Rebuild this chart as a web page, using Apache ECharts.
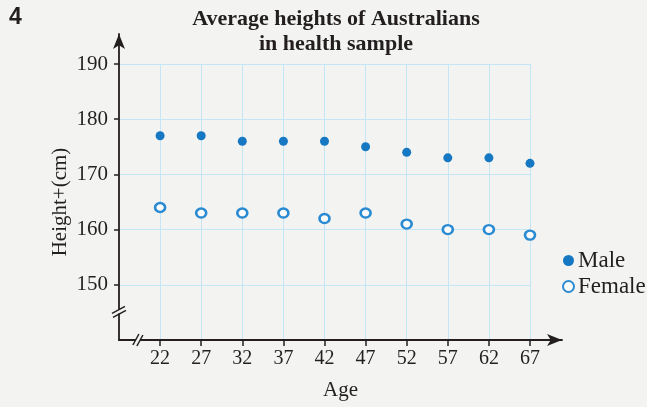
<!DOCTYPE html>
<html>
<head>
<meta charset="utf-8">
<script src="https://cdn.jsdelivr.net/npm/echarts@6/dist/echarts.min.js"></script>
<style>
  html, body { margin: 0; padding: 0; background: #f3f4f1; }
  #chart { width: 647px; height: 407px; }
</style>
</head>
<body>
<div id="chart"></div>
<script>
// Average heights by age group
const ages = [22, 27, 32, 37, 42, 47, 52, 57, 62, 67];
const maleHeights = [177, 177, 176, 176, 176, 175, 174, 173, 173, 172];
const femaleHeights = [164, 163, 163, 163, 162, 163, 161, 160, 160, 159];
const heightTicks = [150, 160, 170, 180, 190];
const titleText = 'Average heights of Australians\nin health sample';
const questionNumber = '4';

const SERIF = '"Liberation Serif", "DejaVu Serif", serif';
const INK = '#231f20';
const GRID_BLUE = '#c3e5f6';
const MALE_BLUE = '#1677c2';
const FEMALE_BLUE = '#2a8ad2';
const BG = '#f3f4f1';

const chart = echarts.init(document.getElementById('chart'), null, { renderer: 'canvas' });

const numberLabel = {
  type: 'text', left: 9, top: 6,
  style: { text: questionNumber, fontFamily: '"Liberation Sans", Arial, sans-serif', fontSize: 23, fontWeight: 'bold', fill: INK }
};

const option = {
  backgroundColor: BG,
  animation: false,
  title: {
    text: titleText,
    left: 336,
    textAlign: 'center',
    top: 7,
    padding: 0,
    textStyle: { fontFamily: SERIF, fontSize: 22, fontWeight: 'bold', color: INK, lineHeight: 25 }
  },
  legend: {
    orient: 'vertical',
    left: 562,
    top: 249,
    padding: 0,
    itemGap: 3,
    itemWidth: 11,
    itemHeight: 11,
    textStyle: { fontFamily: SERIF, fontSize: 23, color: INK, lineHeight: 22, padding: [0, 0, 0, -1] },
    data: [{ name: 'Male', icon: 'circle' }, { name: 'Female', icon: 'circle' }]
  },
  grid: [
    // plotting area: grid lines end at 190 cm and age 67
    { left: 119, right: 117, top: 64, bottom: 67 },
    // axis frame with arrows reaching beyond the plotting area
    { left: 119, right: 85, top: 34, bottom: 67 }
  ],
  xAxis: [
    {
      gridIndex: 0, type: 'value', min: 17, max: 67,
      axisLine: { show: false },
      axisTick: { show: true, length: 6, customValues: ages, lineStyle: { color: INK, width: 1.5 } },
      axisLabel: { customValues: ages, margin: 9, fontFamily: SERIF, fontSize: 20, color: INK },
      splitLine: { show: true, lineStyle: { color: GRID_BLUE, width: 1 } }
    },
    {
      gridIndex: 1, type: 'value', min: 0, max: 1,
      axisLine: { show: true, symbol: ['none', 'arrow'], symbolSize: [9, 15], lineStyle: { color: INK, width: 1.8 } },
      axisTick: { show: false }, axisLabel: { show: false }, splitLine: { show: false },
      name: 'Age', nameLocation: 'middle', nameGap: 40,
      nameTextStyle: { fontFamily: SERIF, fontSize: 21, color: INK }
    }
  ],
  yAxis: [
    {
      gridIndex: 0, type: 'value', min: 140, max: 190,
      axisLine: { show: false },
      axisTick: { show: true, length: 5, customValues: heightTicks, lineStyle: { color: INK, width: 1.5 } },
      axisLabel: { customValues: heightTicks, margin: 11, fontFamily: SERIF, fontSize: 21, color: INK },
      splitLine: { show: true, lineStyle: { color: GRID_BLUE, width: 1 } },
      name: 'Height+(cm)', nameLocation: 'middle', nameGap: 48, nameRotate: 90,
      nameMoveOverlap: false,
      nameTextStyle: { fontFamily: SERIF, fontSize: 21, color: INK }
    },
    {
      gridIndex: 1, type: 'value', min: 0, max: 1,
      axisLine: { show: true, symbol: ['none', 'arrow'], symbolSize: [9, 15], lineStyle: { color: INK, width: 1.8 } },
      axisTick: { show: false }, axisLabel: { show: false }, splitLine: { show: false }
    }
  ],
  series: [
    {
      name: 'Male', type: 'scatter', xAxisIndex: 0, yAxisIndex: 0,
      symbol: 'circle', symbolSize: 9,
      itemStyle: { color: MALE_BLUE, opacity: 1 },
      data: ages.map((a, i) => [a, maleHeights[i]]),
      z: 5
    },
    {
      name: 'Female', type: 'scatter', xAxisIndex: 0, yAxisIndex: 0,
      symbol: 'circle', symbolSize: [10, 9],
      itemStyle: { color: '#fbfbfb', borderColor: FEMALE_BLUE, borderWidth: 2.5, opacity: 1 },
      data: ages.map((a, i) => [a, femaleHeights[i]]),
      z: 5
    }
  ],
  graphic: [numberLabel]
};

chart.setOption(option);

// Axis break marks ("//") placed with the plotting grid's own scales
const yBreak = chart.convertToPixel({ gridIndex: 0 }, [17, 145.2]);
const xBreak = chart.convertToPixel({ gridIndex: 0 }, [19.3, 140]);
const breakStroke = { stroke: INK, lineWidth: 1.5 };
chart.setOption({
  graphic: [
    numberLabel,
    { type: 'rect', shape: { x: yBreak[0] - 2, y: yBreak[1] - 2, width: 4, height: 4 }, style: { fill: BG }, z: 100 },
    { type: 'line', shape: { x1: yBreak[0] - 7, y1: yBreak[1] + 2, x2: yBreak[0] + 6, y2: yBreak[1] - 5 }, style: breakStroke, z: 101 },
    { type: 'line', shape: { x1: yBreak[0] - 6, y1: yBreak[1] + 6, x2: yBreak[0] + 7, y2: yBreak[1] - 1 }, style: breakStroke, z: 101 },
    { type: 'rect', shape: { x: xBreak[0] - 2, y: xBreak[1] - 2, width: 4, height: 4 }, style: { fill: BG }, z: 100 },
    { type: 'line', shape: { x1: xBreak[0] - 5, y1: xBreak[1] + 5, x2: xBreak[0] + 1, y2: xBreak[1] - 6 }, style: breakStroke, z: 101 },
    { type: 'line', shape: { x1: xBreak[0] - 1, y1: xBreak[1] + 6, x2: xBreak[0] + 5, y2: xBreak[1] - 5 }, style: breakStroke, z: 101 }
  ]
}, { replaceMerge: ['graphic'] });
</script>
</body>
</html>
